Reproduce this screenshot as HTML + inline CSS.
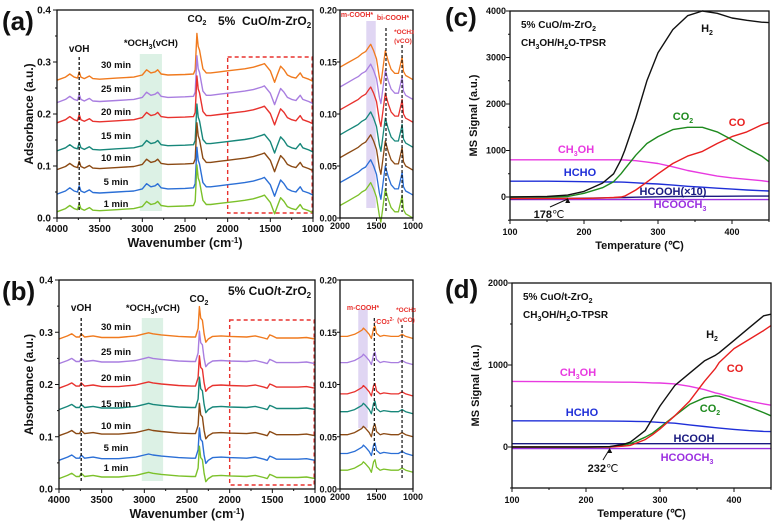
<!DOCTYPE html>
<html><head><meta charset="utf-8"><style>
body{margin:0;background:#fff;}
svg{display:block;font-family:"Liberation Sans",sans-serif;font-weight:bold;}
</style></head><body>
<svg id="fig" width="776" height="531" viewBox="0 0 776 531"></svg>
<script>
// ---------- DATA ----------
const times = ["30 min","25 min","20 min","15 min","10 min","5 min","1 min"];
const colors = ["#f07a1e","#a97ee0","#e8322e","#17877a","#8b4a14","#2b6fd6","#7cc12a"];
// Panel a main spectrum shape
const aWave = [4000,3900,3850,3800,3760,3740,3720,3680,3620,3580,3500,3300,3100,3000,2950,2900,2850,2820,2780,2700,2500,2400,2380,2360,2345,2330,2310,2290,2250,2200,2100,2000,1900,1800,1700,1600,1570,1500,1450,1420,1380,1340,1300,1250,1200,1150,1120,1050,1000];
const aVal  = [0,0.006,0.012,0.006,0.004,0.016,0.006,0.003,0.008,0.003,0.002,0.004,0.006,0.01,0.02,0.014,0.016,0.02,0.012,0.01,0.011,0.012,0.02,0.09,0.065,0.058,0.04,0.022,0.014,0.014,0.016,0.018,0.02,0.022,0.025,0.03,0.032,0.018,-0.004,0.01,0.027,0.02,0.01,0.006,0.004,0.014,0.006,0.002,-0.002];
const aOffset = [0.265,0.222,0.183,0.129,0.093,0.046,0.012];
// Panel a inset shape
const aiWave = [2000,1900,1800,1750,1700,1650,1600,1580,1540,1500,1460,1440,1410,1380,1340,1300,1250,1200,1160,1150,1130,1100,1050,1000];
const aiVal  = [0,0.004,0.008,0.01,0.013,0.015,0.02,0.022,0.016,0.008,-0.01,-0.016,0.0,0.016,0.006,-0.002,-0.006,-0.006,0.006,0.01,-0.004,-0.008,-0.01,-0.012];
const aiOffset = [0.145,0.126,0.104,0.08,0.058,0.034,0.012];
// Panel b main spectrum shape
const bWave = [4000,3900,3850,3800,3760,3740,3700,3600,3500,3300,3100,3000,2950,2900,2800,2600,2450,2400,2370,2355,2340,2320,2300,2280,2250,2200,2100,2000,1800,1700,1600,1560,1530,1500,1450,1300,1200,1100,1000];
const bVal  = [0,0.006,0.01,0.004,0.004,0.01,0.004,0.006,0.003,0.003,0.006,0.01,0.012,0.01,0.008,0.005,0.004,0.004,0.02,0.062,0.04,0.036,0.01,-0.006,0.0,0.005,0.006,0.005,0.004,0.006,0.002,0.0,0.008,0.006,0.002,0.002,0.002,0.003,0.0];
const bOffset = [0.287,0.24,0.193,0.152,0.102,0.055,0.02];
// Panel b inset shape
const biWave = [2000,1900,1800,1750,1700,1680,1650,1600,1570,1540,1520,1500,1450,1400,1300,1200,1150,1100,1000];
const biVal  = [0,0.0,0.002,0.004,0.006,0.008,0.006,0.002,-0.002,0.008,0.01,0.003,0.0,0.001,0.0,0.0,0.002,0.0,-0.002];
const biOffset = [0.146,0.121,0.091,0.074,0.052,0.034,0.018];
// Panel c TPSR
const cTemp = [100,150,178,200,225,240,250,255,270,285,300,320,340,360,380,400,420,440,450];
const cH2   = [0,10,40,120,300,500,800,1000,1700,2500,3100,3600,3900,4000,3950,3850,3800,3760,3750];
const cCO2  = [0,0,10,80,200,330,500,600,900,1150,1300,1450,1500,1500,1400,1230,1050,880,760];
const cCO   = [-30,-30,-30,-30,-20,-10,0,20,150,320,500,720,880,980,1150,1300,1400,1550,1600];
const cMeOH = [800,800,800,800,800,800,800,795,780,750,720,650,570,510,450,410,380,350,330];
const cHCHO = [340,340,335,330,325,322,320,318,305,290,280,255,230,210,190,170,150,135,130];
const cHCOOH= [-40,-35,-30,-25,-20,-15,-10,-10,-5,0,5,10,12,15,15,18,20,20,20];
const cHCOOCH3=[-55,-55,-55,-55,-55,-55,-55,-55,-55,-55,-55,-55,-55,-55,-55,-55,-55,-55,-55];
// Panel d TPSR
const dTemp = [100,200,232,250,260,280,290,300,320,340,360,375,380,400,420,440,450];
const dH2   = [0,0,5,30,60,200,350,500,750,900,1050,1120,1150,1300,1450,1600,1620];
const dCO   = [0,0,0,10,20,90,150,220,380,560,800,960,1030,1200,1310,1420,1480];
const dCO2  = [0,0,0,20,40,120,170,240,380,520,600,625,620,560,490,420,380];
const dMeOH = [800,795,792,790,790,785,782,780,770,740,700,660,650,600,560,525,510];
const dHCHO = [320,318,316,315,314,310,306,300,290,270,250,235,230,215,200,190,188];
const dHCOOH= [40,40,40,40,40,40,40,40,40,40,40,40,40,40,40,40,40];
const dHCOOCH3=[-20,-20,-20,-20,-20,-20,-20,-20,-20,-20,-20,-20,-20,-20,-20,-20,-20];

// ---------- HELPERS ----------
const NS="http://www.w3.org/2000/svg";
const svg=document.getElementById('fig');
function el(tag,attrs,parent){const e=document.createElementNS(NS,tag);for(const k in attrs)e.setAttribute(k,attrs[k]);(parent||svg).appendChild(e);return e;}
function txt(x,y,s,size,fill,anchor,parent){const t=el('text',{x:x,y:y,'font-size':size,fill:fill||'#111','text-anchor':anchor||'middle'},parent);t.innerHTML=s;return t;}
function pathFrom(xs,ys,fx,fy){let d='';for(let i=0;i<xs.length;i++)d+=(i?'L':'M')+fx(xs[i]).toFixed(1)+','+fy(ys[i]).toFixed(1);return d;}
function axesBox(x0,y0,x1,y1,g){el('rect',{x:x0,y:y0,width:x1-x0,height:y1-y0,fill:'none',stroke:'#111','stroke-width':1.3},g);}

// ---------- PANEL A / B (IR) ----------
function irPanel(id,top,bot,left,right,wave,vals,offs,iwave,ivals,ioffs,ann){
  const g=el('g',{});
  
  
  const fx=w=>left+(4000-w)/3000*(right-left);
  const fy=v=>bot-v/0.4*(bot-top);
  // bands
  const band=el('rect',{x:fx(ann.bandL),y:ann.bandTop,width:fx(ann.bandR)-fx(ann.bandL),height:ann.bandBot-ann.bandTop,fill:'#d6efe0',opacity:0.85},g);
  
  
  const box=el('rect',{x:fx(2000),y:ann.boxTop,width:fx(1010)-fx(2000),height:ann.boxBot-ann.boxTop,fill:'none',stroke:'#e8322e','stroke-width':1.4,'stroke-dasharray':'4,3'},g);
  
  
  for(let k=0;k<offs.length;k++){
    const ys=vals.map(v=>v+offs[k]);
    const p=el('path',{d:pathFrom(wave,ys,fx,fy),fill:'none',stroke:colors[k],'stroke-width':1.4,'stroke-linejoin':'round'},g);
    
    
    const lb=txt(ann.timeX,ann.timeY[k],times[k],9.5,'#111','middle',g);
    
    
  }
  el('line',{x1:fx(3740),x2:fx(3740),y1:ann.vohTop,y2:bot-6,stroke:'#111','stroke-width':1.3,'stroke-dasharray':'3,2'},g);
  axesBox(left,top,right,bot,g);
  // ticks
  for(let i=0;i<=4;i++){const y=fy(i*0.1);el('line',{x1:left-4,x2:left,y1:y,y2:y,stroke:'#111'},g);
    const t=txt(left-6,y+3.5,(i*0.1).toFixed(1),10,'#111','end',g);
    if(i<4){const ym=fy(i*0.1+0.05);el('line',{x1:left-2,x2:left,y1:ym,y2:ym,stroke:'#111'},g);}}
  for(let w=4000;w>=1000;w-=500){const x=fx(w);el('line',{x1:x,x2:x,y1:bot,y2:bot+4,stroke:'#111'},g);
    const t=txt(x,bot+14,w,10,'#111','middle',g);
    if(w>1000){const xm=fx(w-250);el('line',{x1:xm,x2:xm,y1:bot,y2:bot+2,stroke:'#111'},g);}}
  const xt=txt((left+right)/2,bot+29,'Wavenumber (cm<tspan font-size="8" dy="-4">-1</tspan><tspan dy="4">)</tspan>',12.5,'#111','middle',g);
  
  const yt=txt(0,0,ann.ylab,12,'#111','middle',g);yt.setAttribute('transform','translate(33,'+((top+bot)/2)+') rotate(-90)');
  
  const pl=txt(2,top+20,'('+id+')',26,'#111','start',g);
  const tt=txt(ann.titleX,top+15,ann.title,12,'#111','start',g);
  txt(fx(2360),ann.co2Y,'CO<tspan font-size="7" dy="3">2</tspan>',10,'#111','middle',g);
  txt(fx(3740),ann.vohY,'vOH',10,'#111','middle',g);
  txt(fx(2900),ann.ochY,'*OCH<tspan font-size="7" dy="3">3</tspan><tspan dy="-3">(vCH)</tspan>',9.5,'#111','middle',g);
  // inset
  const il=340,ir=413;
  const ix=w=>il+(2000-w)/1000*(ir-il);
  const iy=v=>bot-v/0.2*(bot-top);
  const gi=el('g',{},g);
  
  
  el('rect',{x:ix(ann.pbL),y:ann.pbTop,width:ix(ann.pbR)-ix(ann.pbL),height:ann.pbBot-ann.pbTop,fill:'#ddd2f2',opacity:0.9},gi);
  for(let k=0;k<ioffs.length;k++){
    const ys=ivals.map(v=>v+ioffs[k]);
    const p=el('path',{d:pathFrom(iwave,ys,ix,iy),fill:'none',stroke:colors[k],'stroke-width':1.3,'stroke-linejoin':'round'},gi);
    
    
  }
  ann.dashes.forEach(dd=>el('line',{x1:ix(dd[0]),x2:ix(dd[0]),y1:dd[1],y2:dd[2],stroke:'#111','stroke-width':1.2,'stroke-dasharray':'3,2'},gi));
  axesBox(il,top,ir,bot,gi);
  for(let i=0;i<=4;i++){const y=iy(i*0.05);el('line',{x1:il-3,x2:il,y1:y,y2:y,stroke:'#111'},gi);
    txt(il-3,y+3.5,(i*0.05).toFixed(2),9,'#111','end',gi);}
  [2000,1500,1000].forEach(w=>{const x=ix(w);el('line',{x1:x,x2:x,y1:bot,y2:bot+3,stroke:'#111'},gi);txt(x,bot+11,w,9,'#111','middle',gi);});
  ann.ilabels.forEach(l=>txt(l[0],l[1],l[2],l[3]||7,'#e8322e','middle',gi));
}
irPanel('a',10,218,57,313,aWave,aVal,aOffset,aiWave,aiVal,aiOffset,{
  bandL:3030,bandR:2770,bandTop:54,bandBot:211,boxTop:57,boxBot:213,vohTop:57,
  timeX:116,timeY:[68,92,115,139,161,185,207],ylab:'Adsorbance (a.u.)',titleX:218,title:'5%&#160; CuO/m-ZrO<tspan font-size="8" dy="3">2</tspan>',
  co2Y:22,vohY:52,ochY:46,pbL:1640,pbR:1510,pbTop:21,pbBot:208,
  dashes:[[1370,28,212],[1150,45,212]],
  ilabels:[[357,17,'m-COOH*'],[393,20,'bi-COOH*'],[404,34,'*OCH<tspan font-size="5">3</tspan>',6.5],[403,43,'(vCO)',6.5]]
});
irPanel('b',280,489,59,315,bWave,bVal,bOffset,biWave,biVal,biOffset,{
  bandL:3030,bandR:2780,bandTop:318,bandBot:481,boxTop:320,boxBot:485,vohTop:318,
  timeX:116,timeY:[330,355,381,407,429,451,471],ylab:'Absorbance (a.u.)',titleX:228,title:'5% CuO/t-ZrO<tspan font-size="8" dy="3">2</tspan>',
  co2Y:302,vohY:311,ochY:311,pbL:1750,pbR:1620,pbTop:309,pbBot:428,
  dashes:[[1530,318,455],[1150,325,480]],
  ilabels:[[363,310,'m-COOH*'],[384,324,'-CO<tspan font-size="5">3</tspan><tspan font-size="5" dy="-3">2-</tspan>'],[406,312,'*OCH<tspan font-size="5">3</tspan>',6.5],[406,322,'(vCO)',6.5]]
});

// ---------- PANEL C / D (TPSR) ----------
function tpsrPanel(id,top,bot,zeroY,perK,ymax,left,right,temps,series,ann){
  const g=el('g',{});
  
  
  const fx=t=>left+(t-100)/350*(right-left);
  const fy=v=>zeroY-v*perK;
  series.forEach(s=>{
    const p=el('path',{d:pathFrom(temps,s.v,fx,fy),fill:'none',stroke:s.c,'stroke-width':1.4,'stroke-linejoin':'round'},g);
    
    
    const l=txt(s.lx,s.ly,s.lab,11,s.c,'middle',g);
    
    
  });
  axesBox(left,top,right,bot,g);
  for(let v=0;v<=ymax;v+=1000){const y=fy(v);el('line',{x1:left-4,x2:left,y1:y,y2:y,stroke:'#111'},g);
    const t=txt(left-4,y+3,v,9,'#111','end',g);}
  for(let v=-500;v<ymax;v+=1000){const y=fy(v);el('line',{x1:left-2,x2:left,y1:y,y2:y,stroke:'#111'},g);}
  for(let t=100;t<=400;t+=100){const x=fx(t);el('line',{x1:x,x2:x,y1:bot,y2:bot+4,stroke:'#111'},g);
    const l=txt(x,bot+15,t,9,'#111','middle',g);}
  for(let t=150;t<=450;t+=100){const x=fx(t);el('line',{x1:x,x2:x,y1:bot,y2:bot+2,stroke:'#111'},g);}
  const xt=txt((left+right)/2,bot+29,'Temperature (℃)',11,'#111','middle',g);
  
  const yt=txt(0,0,'MS Signal (a.u.)',11,'#111','middle',g);yt.setAttribute('transform','translate('+(left-33)+','+((top+bot)/2)+') rotate(-90)');
  
  const pl=txt(445,top+15,'('+id+')',26,'#111','start',g);
  txt(left+11,top+17,ann.t1,10,'#111','start',g);
  txt(left+11,top+35,'CH<tspan font-size="7" dy="3">3</tspan><tspan dy="-3">OH/H</tspan><tspan font-size="7" dy="3">2</tspan><tspan dy="-3">O-TPSR</tspan>',10,'#111','start',g);
  const ax=fx(ann.onset);
  el('line',{x1:ax,x2:ann.arX,y1:fy(0)+2,y2:ann.arY,stroke:'#111','stroke-width':1},g);
  el('path',{d:'M'+ax+','+(fy(0)+1)+'l-2.5,5l5,0z',fill:'#111'},g);
  txt(ann.ox,ann.oy,ann.onset+'<tspan font-weight="normal">℃</tspan>',11,'#111','middle',g);
}
const s3='<tspan font-size="7" dy="3">3</tspan>', s2='<tspan font-size="7" dy="3">2</tspan>';
tpsrPanel('c',11,220,197,0.0465,4000,510,769,cTemp,[
  {n:'hcooch3',v:cHCOOCH3,c:'#9b30e0',lx:680,ly:208,lab:'HCOOCH'+s3},
  {n:'hcooh',v:cHCOOH,c:'#1a1a80',lx:673,ly:195,lab:'HCOOH(×10)'},
  {n:'hcho',v:cHCHO,c:'#1f2fd8',lx:580,ly:176,lab:'HCHO'},
  {n:'ch3oh',v:cMeOH,c:'#e83ae0',lx:576,ly:153,lab:'CH'+s3+'<tspan dy="-3">OH</tspan>'},
  {n:'co',v:cCO,c:'#e82020',lx:737,ly:126,lab:'CO'},
  {n:'co2',v:cCO2,c:'#1e8a1e',lx:683,ly:120,lab:'CO'+s2},
  {n:'h2',v:cH2,c:'#111',lx:707,ly:32,lab:'H'+s2}
],{t1:'5% CuO/m-ZrO'+s2,onset:178,arX:550,arY:207,ox:549,oy:218});
tpsrPanel('d',283,488,447,0.082,2000,512,771,dTemp,[
  {n:'hcooch3',v:dHCOOCH3,c:'#9b30e0',lx:687,ly:461,lab:'HCOOCH'+s3},
  {n:'hcooh',v:dHCOOH,c:'#1a1a80',lx:694,ly:442,lab:'HCOOH'},
  {n:'hcho',v:dHCHO,c:'#1f2fd8',lx:582,ly:416,lab:'HCHO'},
  {n:'ch3oh',v:dMeOH,c:'#e83ae0',lx:578,ly:376,lab:'CH'+s3+'<tspan dy="-3">OH</tspan>'},
  {n:'co2',v:dCO2,c:'#1e8a1e',lx:710,ly:412,lab:'CO'+s2},
  {n:'co',v:dCO,c:'#e82020',lx:735,ly:372,lab:'CO'},
  {n:'h2',v:dH2,c:'#111',lx:712,ly:338,lab:'H'+s2}
],{t1:'5% CuO/t-ZrO'+s2,onset:232,arX:603,arY:460,ox:603,oy:472});
</script>
</body></html>
